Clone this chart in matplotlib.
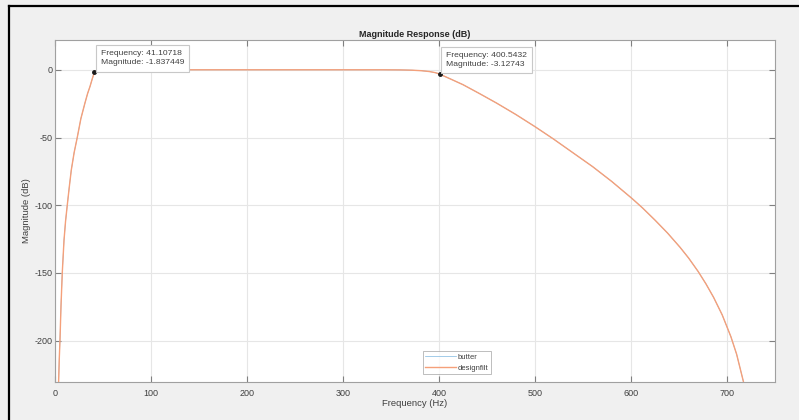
import matplotlib
matplotlib.use("Agg")
import matplotlib.pyplot as plt
from matplotlib.lines import Line2D

# values (Hz, dB)
freq = [3.8, 4.5, 5.2, 6.3, 7.6, 9.4, 11.0, 12.8, 15.0, 17.0, 20.0, 23.2, 27.0,
        31.2, 34.0, 36.5, 39.0, 41.1, 43.0, 46.0, 50.0, 60.0, 100.0, 200.0,
        300.0, 340.0, 360.0, 372.0, 382.0, 390.0, 396.0, 400.5, 412.0, 425.0,
        442.0, 460.0, 480.0, 500.0, 519.0, 540.0, 560.0, 580.0, 601.0, 612.0,
        625.0, 638.0, 651.0, 660.0, 670.0, 678.0, 686.0, 695.0, 704.0, 710.0,
        717.0]
mag = [-230.0, -213.0, -200.0, -174.0, -150.0, -126.0, -112.0, -100.0, -86.0,
       -74.0, -61.0, -50.0, -36.0, -24.6, -17.5, -12.3, -6.3, -1.84, -0.9, -0.35,
       -0.1, 0.0, 0.0, 0.0, 0.0, 0.0, -0.1, -0.3, -0.7, -1.3, -2.1, -3.13, -6.8,
       -11.0, -17.5, -24.6, -33.0, -42.0, -51.0, -61.5, -71.5, -82.5, -95.0,
       -102.0, -111.0, -120.5, -131.0, -139.0, -149.0, -158.0, -168.0, -181.0,
       -197.0, -210.0, -230.0]

tips = [(41.10718, -1.837449), (400.5432, -3.12743)]
tip_labels = ["Frequency: 41.10718\nMagnitude: -1.837449",
              "Frequency: 400.5432\nMagnitude: -3.12743"]

x_ticks = [0, 100, 200, 300, 400, 500, 600, 700]
y_ticks = [-200, -150, -100, -50, 0]

plt.rcParams["font.family"] = ["Liberation Sans", "DejaVu Sans"]
plt.rcParams["axes.unicode_minus"] = False

fig = plt.figure(figsize=(7.99, 4.2), dpi=100, facecolor="#f0f0f0")
ax = fig.add_axes([0.0688, 0.0905, 0.9012, 0.8143])
ax.set_facecolor("white")

ax.plot(freq, mag, color="#7fb8e0", lw=0.5, label="butter")
ax.plot(freq, mag, color="#f5a07a", lw=1.0, label="designfilt")

for (fx, fy), lab in zip(tips, tip_labels):
    ax.plot([fx], [fy], "o", color="#1a1a1a", ms=2.5, zorder=5)
    ax.annotate(lab, (fx, fy), xytext=(4.5, 4.2), textcoords="offset points",
                ha="left", va="bottom", fontsize=6.1, color="#404040",
                linespacing=1.45,
                bbox=dict(boxstyle="square,pad=0.6", fc="white", ec="#c8c8c8", lw=0.8),
                zorder=6)

ax.set_xlim(0, 750)
ax.set_ylim(-230.5, 22)
ax.set_xticks(x_ticks)
ax.set_yticks(y_ticks)
ax.grid(True, color="#e6e6e6", lw=0.8)
ax.set_axisbelow(True)
ax.tick_params(direction="in", length=4, width=0.8, colors="#808080",
               labelcolor="#404040", labelsize=6.5, top=True, right=True)
ax.tick_params(axis="y", pad=2)
ax.tick_params(axis="x", pad=5)
for s in ax.spines.values():
    s.set_color("#a0a0a0")
    s.set_linewidth(0.8)

ax.set_title("Magnitude Response (dB)", fontsize=6.5, fontweight="bold",
             color="#262626", pad=2.5)
ax.set_xlabel("Frequency (Hz)", fontsize=6.8, color="#404040", labelpad=1)
ax.set_ylabel("Magnitude (dB)", fontsize=6.8, color="#404040", labelpad=2)

leg = ax.legend(loc="lower center", fontsize=5.5, frameon=True, fancybox=False,
                handlelength=4, handletextpad=0.3, borderpad=0.3,
                labelspacing=0.45, bbox_to_anchor=(0.558, 0.012))
leg.get_frame().set_edgecolor("#a0a0a0")
leg.get_frame().set_linewidth(0.6)
for t in leg.get_texts():
    t.set_color("#404040")

# screenshot frame edges
fig.add_artist(Line2D([9 / 799, 1], [1 - 6 / 420, 1 - 6 / 420], color="black",
                      lw=1.6, transform=fig.transFigure))
fig.add_artist(Line2D([9 / 799, 9 / 799], [0, 1 - 6 / 420], color="black",
                      lw=1.6, transform=fig.transFigure))

fig.savefig("out.png", dpi=100, facecolor=fig.get_facecolor())
